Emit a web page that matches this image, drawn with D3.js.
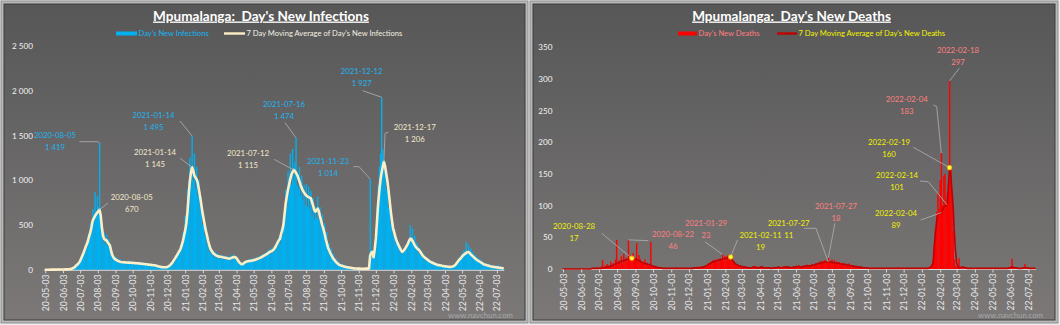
<!DOCTYPE html>
<html><head><meta charset="utf-8">
<script src="https://cdn.jsdelivr.net/npm/d3@7"></script>
<style>body{margin:0;background:#eeeeee;}svg{display:block}</style>
</head><body>
<svg id="c" width="1060" height="325"></svg>
<script>
// ---------------- DATA ----------------
const startDate = "2020-05-01";   // first 2-day bin
const binDays = 2;
const xTickLabels = ["20-05-03","20-06-03","20-07-03","20-08-03","20-09-03","20-10-03","20-11-03","20-12-03",
  "21-01-03","21-02-03","21-03-03","21-04-03","21-05-03","21-06-03","21-07-03","21-08-03","21-09-03","21-10-03",
  "21-11-03","21-12-03","22-01-03","22-02-03","22-03-03","22-04-03","22-05-03","22-06-03","22-07-03"];
const infYTicks = [0,500,1000,1500,2000,2500];
const deathYTicks = [0,50,100,150,200,250,300,350];

const infBars = [
 0,2,1,3,0,2,4,1,3,2, 5,2,4,3,6,2,7,4,8,
 3,9,6,14,8,18,22,40,35,70, 55,95,80,160,140,230,190,300,250,380,
 330,520,420,680,560,870,600,820,700,1419, 520,430,300,420,280,390,260,340,230,260,
 140,170,100,150,90,130,80,115,70,100, 75,100,70,95,72,105,68,90,70,85,
 65,88,62,90,60,82,58,80,55, 52,75,50,70,48,66,45,62,42,58,
 36,50,30,44,25,38,22,34,20,40, 30,55,45,75,70,110,100,150,140,210,
 190,290,270,420,380,600,540,900,880,1250, 1100,1495,
 1000,1300,900,1150,820,1000,720,820,500, 620,380,480,270,330,200,260,170,220,140,
 200,130,185,120,170,125,165,118,160,110, 155,108,150,115,160,120,175,118,150,95,
 120,62,85,50,80,65,100,78,110,85, 120,88,125,90,130,95,135,100,150,
 110,160,125,175,135,190,150,205,165,235, 180,240,190,270,215,320,250,370,290,460,
 380,580,540,900,700,1100,850,1300,950,1350, 1000,1200,1474,950,900,1150,820,1050,780,950,
 720,960,700,930,680,880,600,800,560,700, 580,820,560,700,470,620,380,520,290,420,
 210,300,170,240,120,180,90,130,70,100, 45,70,38,60,34,50,28,42,25,
 20,30,18,26,14,22,12,19,11, 10,16,9,15,10,14,11,15,12,
 1014,220,190,130,280,450,700,950,1150,1300, 1927,1350,1150,1200,900,1000,700,800,520,600,
 380,450,300,360,250,300,200,240,170,220, 200,280,240,330,300,500,360,460,300,380,
 230,300,180,250,160,210,130,170,110,140, 95,120,80,105,70,95,60,80,50,70,
 45,60,40,55,38,50,32,45,30, 26,38,28,40,35,55,60,90,100,140,
 130,180,150,220,170,310,200,280,190,240, 150,200,130,170,110,145,90,120,75,100,
 60,80,50,70,45,60,38,50,32,45, 28,40,25,60,20,30,16,22,12
];
const infMA = [
 1,1,1,1,1,2,2,2,2,2, 2,3,3,3,3,4,4,4,5,
 5,6,7,8,10,14,20,28,40,55, 62,78,100,130,160,190,225,260,290,330,
 380,420,480,550,575,600,620,640,655,670, 610,480,380,345,335,330,310,290,273,220,
 170,143,125,115,108,100,95,90,87,85, 84,83,82,82,80,80,79,78,77,76,
 75,74,73,72,70,69,68,66,65, 63,62,60,58,56,55,53,51,50,47,
 44,40,37,34,31,30,29,28,28,30, 36,44,55,68,85,106,125,145,165,190,
 210,235,275,320,380,440,520,650,820,980, 1080,1145,
 1110,1055,1030,1010,970,900,820,740,650, 580,510,440,390,330,280,240,215,195,180,
 170,162,155,150,147,145,143,140,138,135, 132,128,125,127,130,135,140,143,140,130,
 110,90,75,65,62,70,80,88,92,95, 98,100,102,105,108,110,115,120,125,
 130,136,143,150,158,165,172,180,190,200, 205,210,220,235,255,280,305,330,345,400,
 440,500,620,740,820,890,950,1010,1060,1090, 1115,1105,1085,1060,1030,990,950,915,887,865,
 845,830,820,812,805,800,760,720,670,650, 665,683,655,600,552,500,460,410,350,300,
 250,220,190,165,140,120,105,88,76,65, 55,50,46,42,38,34,30,28,26,
 24,22,20,18,16,15,14,13,13, 13,12,12,12,12,13,13,13,14,
 160,190,200,140,230,350,540,740,880,1000, 1080,1150,1206,1160,1080,1000,900,780,660,560,
 470,420,370,330,300,270,245,220,200,210, 225,245,268,290,320,345,345,325,300,275,
 255,240,228,218,200,180,160,145,135,125, 115,105,95,88,82,76,70,65,60,55,
 52,50,47,44,42,40,38,36,34, 33,33,34,36,40,48,60,78,95,112,
 125,140,155,168,178,188,196,199,190,175, 162,150,138,125,115,106,98,90,82,75,
 65,60,56,52,48,44,40,37,35,33, 31,29,27,25,23,22,20,18,17
];
const deathBars = [
 0,0,0,0,0,0,0,0,0,0, 0,0,0,0,0,0,0,0,0,0,
 0,0,0,0,1,0,2,0,1,3, 0,2,1,4,14,3,6,2,8,5,
 3,12,6,9,4,15,46,8,14,10, 20,9,24,14,18,12,46,22,15,20,
 25,14,18,41,12,22,16,10,12,8, 15,6,10,5,8,43,4,6,3,5,
 2,4,1,3,2,1,0,2,1,1, 2,0,1,1,2,0,1,3,0,1,
 1,2,0,1,1,0,2,1,1,0, 2,1,3,1,2,4,2,3,2,4,
 4,3,6,5,9,7,12,9,14,11, 15,10,16,12,17,14,23,13,20,16,
 21,15,22,18,14,10,12,6,8,5, 6,4,5,3,4,2,4,1,3,2,
 3,1,4,2,5,1,2,3,2,4, 3,2,1,3,2,1,2,1,2,1,
 2,3,1,4,2,3,1,2,4,3, 2,4,3,2,3,1,4,3,2,5,
 4,6,2,3,5,4,6,4,7,5, 6,4,8,5,7,9,6,10,8,12,
 9,13,11,14,10,12,18,13,11,15, 9,14,8,12,10,11,7,9,8,10,
 6,8,5,9,7,5,4,6,3,5, 3,4,2,3,2,1,3,1,2,1,
 1,0,2,1,1,0,1,2,0,1, 1,1,0,2,1,0,1,1,2,0,
 1,2,0,1,1,3,0,1,1,2, 1,0,2,1,1,0,1,2,1,1,
 0,1,2,1,1,2,0,1,1,2, 1,3,2,5,8,
 12,40,65,90,120,95,140,183,100,147, 150,105,120,135,297,160,123,60,15,5,
 3,2,17,1,2,3,1,2,1,0, 1,0,2,1,0,1,1,2,0,1,
 1,0,1,1,2,0,1,1,0,1, 1,1,0,2,1,0,1,1,2,1,
 0,1,2,1,3,2,4,16,3,2, 1,2,1,0,1,1,2,3,8,2,
 1,2,1,0,1,1,0,1
];
const deathMA = [
 0,0,0,0,0,0,0,0,0,0, 0,0,0,0,0,0,0,0,0,0,
 0,0,0,0,0,1,1,1,1,1, 1,1,1,1,2,2,2,3,3,4,
 4,5,5,6,7,8,9,9,10,11, 12,12,13,14,14,15,15,16,16,17,
 16,16,15,15,14,13,12,11,10,9, 9,8,8,7,7,6,5,4,4,3,
 3,2,2,2,2,1,1,1,1,1, 1,1,1,1,1,1,1,1,1,1,
 1,1,1,1,1,1,1,1,1,1, 1,1,2,2,2,2,2,2,3,3,
 3,4,5,6,7,8,9,10,11,12, 12,13,13,14,14,15,15,16,17,17,
 17,18,18,19,16,12,10,8,7,6, 5,5,4,4,3,3,3,2,2,2,
 2,2,3,3,3,2,2,2,3,3, 3,2,2,2,2,2,2,1,1,2,
 2,2,2,3,3,2,2,2,3,3, 3,3,3,3,2,2,3,3,3,4,
 4,4,3,3,4,4,4,5,5,5, 5,5,6,6,6,7,8,8,9,9,
 10,10,10,11,11,11,11,11,11,10, 10,10,9,9,9,9,8,8,8,7,
 7,7,6,6,6,5,5,5,4,4, 4,3,3,3,3,2,2,2,2,2,
 1,1,1,1,1,1,1,1,1,1, 1,1,1,1,1,1,1,1,1,1,
 1,1,1,1,1,1,1,1,1,1, 1,1,1,1,1,1,1,1,1,1,
 1,1,1,1,1,1,1,1,1,1, 1,1,2,3,5,
 10,35,57,75,84,87,88,89,93,97, 99,100,101,130,160,150,125,100,60,30,
 10,4,2,2,3,3,3,2,2,1, 1,1,1,1,1,1,1,1,1,1,
 1,1,1,1,1,1,1,1,1,1, 1,1,1,1,1,1,1,1,1,1,
 1,1,1,1,1,2,2,3,3,2, 2,2,1,1,1,1,1,2,2,2,
 2,1,1,1,1,1,1,1
];

// annotated points: [date, value]
const infBarNotes = [["2020-08-05",1419],["2021-01-14",1495],["2021-07-16",1474],["2021-11-23",1014],["2021-12-12",1927]];
const infMANotes  = [["2020-08-05",670],["2021-01-14",1145],["2021-07-12",1115],["2021-12-17",1206]];
const deathBarNotes = [["2020-08-22",46],["2021-01-29",23],["2021-07-27",18],["2022-02-04",183],["2022-02-18",297]];
const deathMANotes  = [["2020-08-28",17],["2021-02-11",19],["2021-07-27",11],["2022-02-19",160],["2022-02-14",101],["2022-02-04",89]];

// ---------------- LAYOUT ----------------
const infBarNoteLayout = [
 {dx:-44.5,dy:-7.4,leader:[[-20.2,-1],[-1.8,-1]]},
 {dx:-38.5,dy:-20.2,leader:[[-12,-14.9]]},
 {dx:-11.9,dy:-33.5,leader:[[-10.9,-15.1]]},
 {dx:-42.1,dy:-17.3,leader:[[-16.8,-12.3],[-11.1,-12.3]]},
 {dx:-19.9,dy:-25.5,leader:[[-18.9,-6.5]]}];
const infMANoteLayout = [
 {dx:32.2,dy:-12.5,leader:[[8.5,-6.8]]},
 {dx:-37,dy:-15,leader:[[-12,-9]]},
 {dx:-45.6,dy:-16.6,leader:[[-19.6,-10.6]]},
 {dx:30.9,dy:-34.5,leader:[[4.5,-29.5],[1.2,-28.5]]}];
const deathBarNoteLayout = [
 {dx:44.7,dy:-5.6,leader:[[20,0.8]]},
 {dx:-16.5,dy:-31.1,leader:[[-17.5,-12.7]]},
 {dx:7.6,dy:-50.9,leader:[[6.6,-34.3]]},
 {dx:-34.6,dy:-53.8,leader:[[-8,-48.1],[-4.6,-46.4]]},
 {dx:8.4,dy:-30.9,leader:[[9.7,-12.6]]}];
const deathMANoteLayout = [
 {dx:-57.8,dy:-31.5,leader:[[-30.1,-24.9]],dot:true},
 {dx:29.8,dy:-22,leader:[[6.8,-17]],dot:true},
 {dx:-39.7,dy:-38.7,leader:[[-24.4,-33.7],[-12.4,-33.7]]},
 {dx:-60.6,dy:-25,leader:[[-36.3,-20.4]],dot:true},
 {dx:-50.2,dy:-29.3,leader:[[-27.2,-24],[-18.9,-23.3]]},
 {dx:-45.3,dy:0.7,leader:[[-20.6,7.4]]}];

const FONT = "Lato, 'Open Sans', sans-serif";
const svg = d3.select("#c");
const defs = svg.append("defs");
const grad = defs.append("linearGradient").attr("id","bg").attr("x1",0).attr("y1",0).attr("x2",0).attr("y2",1);
grad.append("stop").attr("offset","0%").attr("stop-color","#575757");
grad.append("stop").attr("offset","100%").attr("stop-color","#7c7878");

function fit(text, width, weight){
  const t = svg.append("text").attr("font-family",FONT).attr("font-size",20)
    .attr("font-weight",weight||400).style("white-space","pre").text(text);
  const w = t.node().getComputedTextLength(); t.remove();
  return 20*width/w;
}
const sz = {
  title: fit("Mpumalanga:  Day's New Infections",216,700),
  legend: fit("7 Day Moving Average of Day's New Infections",156),
  ytick: fit("2 500",21),
  xtick: fit("20-05-03",37),
  note: fit("2021-12-12",42),
  wm: fit("www.navchun.com",65)
};

const parseTick = d3.utcParse("%y-%m-%d");
const parseDate = d3.utcParse("%Y-%m-%d");
const start = parseDate(startDate);
const tickDates = xTickLabels.map(parseTick);
const binStart = i => d3.utcDay.offset(start, binDays*i);
const binCenter = i => d3.utcHour.offset(start, 24*binDays*i + 12*binDays);
const fmtNum = v => d3.format(",")(v).replace(/,/g," ");

const panels = [
 {frame:[1,1,527,322], inner:[4,4,521,316], xr:[45.3,496.9], yr:[269.8,45.9], ymax:2500,
  yTicks:infYTicks, yLabelX:33, bars:infBars, ma:infMA, barColor:"#00b0f0", maColor:"#fbefc8", maWidth:2.6,
  title:"Mpumalanga:  Day's New Infections", titleX:261,
  leg:{sw1:[116,137], t1:"Day's New Infections", c1:"#14b4f2", sw2:[224,245], t2:"7 Day Moving Average of Day's New Infections", c2:"#f4f0e0", swH:4},
  barNotes:infBarNotes, barLayout:infBarNoteLayout, barNoteColor:"#1db4f0",
  maNotes:infMANotes, maLayout:infMANoteLayout, maNoteColor:"#f3e9cc", wmRight:513},
 {frame:[530,1,528,322], inner:[533,4,522,316], xr:[563.0,1028.4], yr:[269,47.3], ymax:350,
  yTicks:deathYTicks, yLabelX:552.5, bars:deathBars, ma:deathMA, barColor:"#ff0000", maColor:"#c00000", maWidth:1.6,
  title:"Mpumalanga:  Day's New Deaths", titleX:791.5,
  leg:{sw1:[678,697], t1:"Day's New Deaths", c1:"#ff7c80", sw2:[777,797], t2:"7 Day Moving Average of Day's New Deaths", c2:"#f2f200", swH:4},
  barNotes:deathBarNotes, barLayout:deathBarNoteLayout, barNoteColor:"#ff8080",
  maNotes:deathMANotes, maLayout:deathMANoteLayout, maNoteColor:"#f0f000", wmRight:1043}
];

panels.forEach(p => {
  const g = svg.append("g");
  g.append("rect").attr("x",p.frame[0]).attr("y",p.frame[1]).attr("width",p.frame[2]).attr("height",p.frame[3])
    .attr("fill","#b9b9b9").attr("stroke","#8c8c8c").attr("stroke-width",1);
  g.append("rect").attr("x",p.inner[0]).attr("y",p.inner[1]).attr("width",p.inner[2]).attr("height",p.inner[3])
    .attr("fill","url(#bg)").attr("stroke","#3c3c3c").attr("stroke-width",1);

  const x = d3.scaleUtc().domain([tickDates[0], tickDates[tickDates.length-1]]).range(p.xr);
  const y = d3.scaleLinear().domain([0,p.ymax]).range(p.yr);

  // bars
  g.append("g").selectAll("rect").data(p.bars).join("rect")
    .attr("x",(d,i)=>x(binStart(i)))
    .attr("width",(d,i)=>x(binStart(i+1))-x(binStart(i))+0.25)
    .attr("y",d=>y(d)).attr("height",d=>y(0)-y(d))
    .attr("fill",p.barColor);

  // baseline
  g.append("line").attr("x1",x(binStart(0))).attr("x2",x(binStart(p.bars.length)))
    .attr("y1",y(0)+0.5).attr("y2",y(0)+0.5).attr("stroke","#d8d8d8").attr("stroke-width",1);

  // moving average
  g.append("path").datum(p.ma)
    .attr("d", d3.line().x((d,i)=>x(binCenter(i))).y(d=>y(d)))
    .attr("fill","none").attr("stroke",p.maColor).attr("stroke-width",p.maWidth).attr("stroke-linejoin","round");

  // x axis
  const xa = g.append("g").attr("transform",`translate(0,${y(0)+0.5})`)
    .call(d3.axisBottom(x).tickValues(tickDates).tickFormat(d3.utcFormat("%y-%m-%d")).tickSize(3).tickPadding(0));
  xa.select(".domain").remove();
  xa.selectAll(".tick line").attr("stroke","#d8d8d8");
  xa.selectAll(".tick text").attr("fill","#e6e6e6").attr("font-family",FONT).attr("font-size",sz.xtick)
    .attr("text-anchor","end").attr("transform","rotate(-90)").attr("x",-4).attr("y",0).attr("dy","0.35em");

  // y axis
  const ya = g.append("g").attr("transform",`translate(${p.yLabelX},0)`)
    .call(d3.axisLeft(y).tickValues(p.yTicks).tickFormat(fmtNum).tickSize(0).tickPadding(0));
  ya.select(".domain").remove();
  ya.selectAll(".tick text").attr("fill","#f2f2f2").attr("font-family",FONT).attr("font-size",sz.ytick);

  // title
  g.append("text").attr("x",p.titleX).attr("y",20.5).attr("text-anchor","middle")
    .attr("font-family",FONT).attr("font-weight",700).attr("font-size",sz.title).attr("fill","#ffffff")
    .style("white-space","pre").style("text-decoration","underline").text(p.title);

  // legend
  const L = p.leg, ly = 33.5;
  g.append("rect").attr("x",L.sw1[0]).attr("y",ly-L.swH/2).attr("width",L.sw1[1]-L.sw1[0]).attr("height",L.swH).attr("fill",p.barColor);
  g.append("text").attr("x",L.sw1[1]+1.5).attr("y",ly).attr("dy","0.35em").attr("font-family",FONT)
    .attr("font-size",sz.legend).attr("fill",L.c1).text(L.t1);
  g.append("line").attr("x1",L.sw2[0]).attr("x2",L.sw2[1]).attr("y1",ly).attr("y2",ly)
    .attr("stroke",p.maColor).attr("stroke-width",2.4);
  g.append("text").attr("x",L.sw2[1]+1.5).attr("y",ly).attr("dy","0.35em").attr("font-family",FONT)
    .attr("font-size",sz.legend).attr("fill",L.c2).text(L.t2);

  // annotations
  function anchorOf(note){
    const d = parseDate(note[0]);
    const bin = Math.floor(d3.utcDay.count(start,d)/binDays);
    return [x(binCenter(bin)), y(note[1])];
  }
  function drawNotes(notes, layout, color){
    notes.forEach((n,k)=>{
      const lay = layout[k];
      const a = anchorOf(n);
      const pts = lay.leader.map(q=>[a[0]+q[0],a[1]+q[1]]).concat([a]);
      g.append("path").attr("d",d3.line()(pts)).attr("fill","none").attr("stroke","#a9a9a9").attr("stroke-width",0.9);
      if (lay.dot) g.append("circle").attr("cx",a[0]).attr("cy",a[1]).attr("r",2.3)
          .attr("fill","#ffff40").attr("stroke","#ff9900").attr("stroke-width",0.8);
      const t = g.append("text").attr("font-family",FONT).attr("font-size",sz.note).attr("fill",color)
        .attr("text-anchor","middle");
      t.append("tspan").attr("x",a[0]+lay.dx).attr("y",a[1]+lay.dy).attr("dy","0.35em").text(n[0]);
      t.append("tspan").attr("x",a[0]+lay.dx).attr("y",a[1]+lay.dy+12).attr("dy","0.35em").text(fmtNum(n[1]));
    });
  }
  drawNotes(p.barNotes, p.barLayout, p.barNoteColor);
  drawNotes(p.maNotes, p.maLayout, p.maNoteColor);

  // watermark
  g.append("text").attr("x",p.wmRight).attr("y",318).attr("text-anchor","end").attr("font-family",FONT)
    .attr("font-size",sz.wm).attr("fill","#a8a8a8").text("www.navchun.com");
});
</script>
</body></html>
